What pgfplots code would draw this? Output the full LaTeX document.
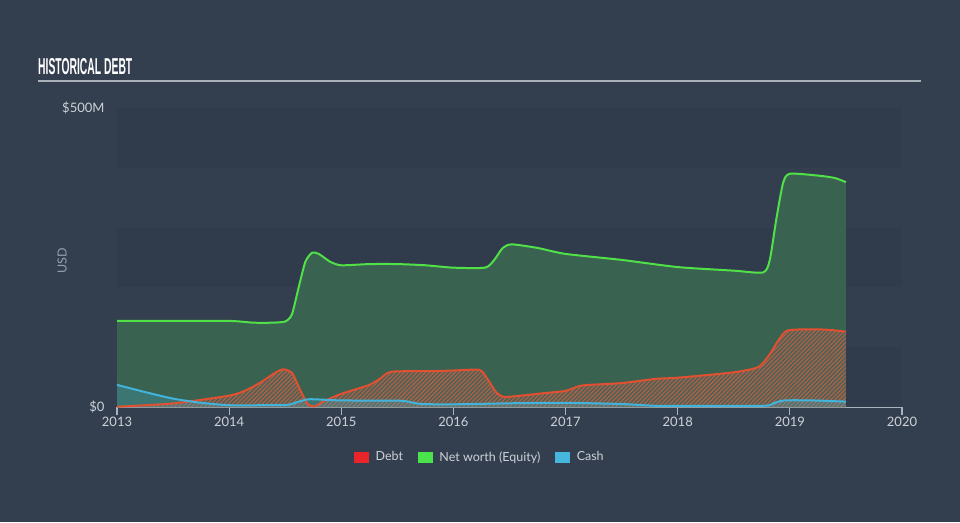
\documentclass[border=0pt]{standalone}
\usepackage{fontspec}
\setmainfont{Lato}
\newfontfamily\titlefont[FakeStretch=0.45]{Liberation Sans}
\usepackage{pgfplots}
\usepackage{pgfplotstable}
\pgfplotsset{compat=1.18}
\usetikzlibrary{patterns.meta}
\definecolor{bg}{RGB}{51,63,79}
\definecolor{band}{RGB}{48,60,75}
\definecolor{greenline}{RGB}{80,224,72}
\definecolor{greenfill}{RGB}{58,98,80}
\definecolor{debtline}{RGB}{226,80,50}
\definecolor{debtbase}{RGB}{84,96,86}
\definecolor{hatch}{RGB}{176,100,70}
\definecolor{cashline}{RGB}{64,180,220}
\definecolor{axisgrey}{RGB}{170,178,188}
\definecolor{ticktext}{RGB}{205,210,216}
\definecolor{labelgrey}{RGB}{150,160,172}
\definecolor{titleline}{RGB}{170,176,184}
\definecolor{debtleg}{RGB}{232,38,42}
\definecolor{greenleg}{RGB}{75,227,75}
\definecolor{cashleg}{RGB}{69,182,221}

\pgfplotstableread{
x y
2013.00 144
2013.50 144
2014.00 144
2014.22 141
2014.38 141
2014.50 143
2014.56 155
2014.62 200
2014.68 243
2014.74 258
2014.80 256
2014.90 243
2015.00 237
2015.25 239
2015.50 239
2015.75 237
2016.00 233
2016.28 233
2016.36 245
2016.44 266
2016.52 272
2016.75 266
2017.00 256
2017.50 246
2018.00 234
2018.50 228
2018.76 225
2018.82 245
2018.88 315
2018.94 375
2019.00 390
2019.25 387
2019.40 383
2019.50 376
}\greendata

\pgfplotstableread{
x y
2013.00 0.5
2013.50 6
2014.00 19
2014.15 28
2014.28 41
2014.40 56
2014.48 63
2014.56 57
2014.63 30
2014.70 5
2014.76 1
2014.85 10
2015.00 22
2015.25 37
2015.35 48
2015.45 59
2015.82 60
2016.00 61
2016.23 62
2016.30 48
2016.38 25
2016.45 17
2016.60 19
2016.80 23
2017.00 27
2017.15 36
2017.50 40
2017.80 47
2018.00 49
2018.50 58
2018.72 67
2018.82 88
2018.90 112
2018.98 128
2019.20 130
2019.35 129
2019.50 126
}\debtdata

\pgfplotstableread{
x y
2013.00 37
2013.25 25
2013.50 14
2013.75 7
2014.00 3
2014.30 3
2014.52 3.5
2014.62 9
2014.72 13
2015.00 11
2015.52 10.5
2015.62 8
2015.72 5
2016.00 4.5
2016.60 6.5
2017.00 7
2017.50 5
2017.80 2
2018.00 2
2018.76 2
2018.85 6
2018.95 11
2019.20 11
2019.50 9
}\cashdata

\begin{document}
\begin{tikzpicture}
\fill[bg] (0pt,0pt) rectangle (960pt,522pt);
\node[anchor=base west, text=white, inner sep=0pt, font={\titlefont\bfseries\fontsize{23}{26}\selectfont}] at (38pt,447pt) {HISTORICAL DEBT};
\draw[titleline, line width=1.6pt] (38pt,441pt) -- (921pt,441pt);
\begin{axis}[
  at={(117pt,115pt)}, anchor=south west,
  scale only axis, width=785pt, height=299pt,
  xmin=2013, xmax=2020, ymin=0, ymax=500,
  axis x line=bottom, axis y line=left,
  x axis line style={-, draw=axisgrey, line width=1.2pt},
  y axis line style={draw=none},
  xtick={2013,2014,2015,2016,2017,2018,2019,2020},
  xticklabels={2013,2014,2015,2016,2017,2018,2019,2020},
  ytick={0,500}, yticklabels={\$0,\$500M},
  tick align=outside, major tick length=8pt,
  xtick style={draw=axisgrey, line width=1.2pt},
  ytick style={draw=none},
  ticklabel style={text=ticktext, font=\fontsize{13}{15}\selectfont},
  xticklabel style={yshift=1pt},
  yticklabel style={xshift=-1pt},
  ylabel={USD},
  ylabel style={at={(axis description cs:-0.07,0.49)}, anchor=center, text=labelgrey, font=\fontsize{12.5}{14}\selectfont},
  clip=false,
  legend style={at={(axis description cs:0.4624,-0.167)}, anchor=center, draw=none, fill=none,
    legend columns=3, column sep=0pt,
    /tikz/every odd column/.append style={column sep=5pt},
    /tikz/every even column/.append style={column sep=13pt},
    nodes={text=ticktext, font=\fontsize{12.5}{14}\selectfont, inner sep=2pt}},
  legend cell align=left,
]
\fill[band] (axis cs:2013,0) rectangle (axis cs:2020,100);
\fill[band] (axis cs:2013,200) rectangle (axis cs:2020,300);
\fill[band] (axis cs:2013,400) rectangle (axis cs:2020,500);

\addplot[draw=none, fill=greenfill, smooth, tension=0.4, forget plot] table {\greendata} \closedcycle;
\addplot[draw=none, fill=debtbase, smooth, tension=0.4, forget plot] table {\debtdata} \closedcycle;
\addplot[draw=none, pattern={Lines[angle=45,distance=3pt,line width=1.1pt]}, pattern color=hatch, smooth, tension=0.4, forget plot] table {\debtdata} \closedcycle;
\addplot[draw=none, fill=cashline, fill opacity=0.25, smooth, tension=0.4, forget plot] table {\cashdata} \closedcycle;

\addplot[greenline, line width=2pt, smooth, tension=0.4, forget plot] table {\greendata};
\addplot[debtline, line width=2pt, smooth, tension=0.4, forget plot] table {\debtdata};
\addplot[cashline, line width=2pt, smooth, tension=0.4, forget plot] table {\cashdata};

\addlegendimage{legend image code/.code={\fill[debtleg] (0pt,-5pt) rectangle (14pt,5pt);}}
\addlegendentry{Debt}
\addlegendimage{legend image code/.code={\fill[greenleg] (0pt,-5pt) rectangle (14pt,5pt);}}
\addlegendentry{Net worth (Equity)}
\addlegendimage{legend image code/.code={\fill[cashleg] (0pt,-5pt) rectangle (14pt,5pt);}}
\addlegendentry{Cash}
\end{axis}
\pgfresetboundingbox
\path[use as bounding box] (0pt,0pt) rectangle (960pt,522pt);
\end{tikzpicture}
\end{document}
